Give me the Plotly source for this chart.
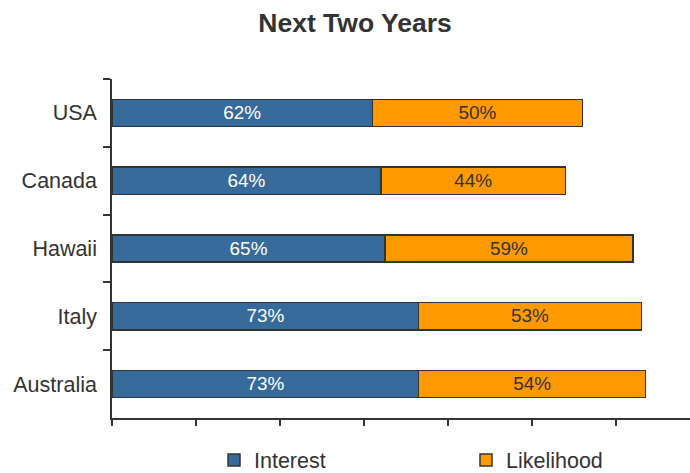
import plotly.graph_objects as go

categories = ["USA", "Canada", "Hawaii", "Italy", "Australia"]
interest = [62, 64, 65, 73, 73]
likelihood = [50, 44, 59, 53, 54]
x_ticks = [0, 20, 40, 60, 80, 100, 120]

FONT = "Liberation Sans, Arial"

fig = go.Figure()
fig.add_trace(go.Bar(
    y=categories, x=interest, name="Interest", orientation="h",
    marker=dict(color="#366A9A", line=dict(color="#333333", width=1.5)),
    texttemplate="%{x}%", textposition="inside", insidetextanchor="middle",
    textfont=dict(color="white", size=21.5, family=FONT),
    legend="legend", showlegend=True,
))
fig.add_trace(go.Bar(
    y=categories, x=likelihood, name="Likelihood", orientation="h",
    marker=dict(color="#FF9900", line=dict(color="#333333", width=1.5)),
    texttemplate="%{x}%", textposition="inside", insidetextanchor="middle",
    textfont=dict(color="#333333", size=21.5, family=FONT),
    legend="legend2", showlegend=True,
))

legend_common = dict(orientation="h", xanchor="left", xref="container",
                     yref="container", y=1 - 460 / 473, yanchor="middle",
                     visible=True, font=dict(size=21.5, color="#333333"))

fig.update_layout(
    width=690, height=473,
    margin=dict(l=112, r=0, t=79, b=55),
    barmode="stack", bargap=0.6, showlegend=True,
    plot_bgcolor="white", paper_bgcolor="white",
    font=dict(family=FONT, color="#333333", size=21.5),
    title=dict(text="<b>Next Two Years</b>", x=355 / 690, xanchor="center",
               y=1 - 23 / 473, yanchor="middle", font=dict(size=26.5, color="#333333")),
    legend=dict(x=(228 - 14) / 690, **legend_common),
    legend2=dict(x=(480 - 14) / 690, **legend_common),
    uniformtext=dict(mode="show", minsize=10),
)
fig.update_xaxes(range=[0, 137.6], tickvals=x_ticks, showticklabels=False,
                 ticks="outside", ticklen=6, tickcolor="#333333", tickwidth=1.5,
                 showline=True, linecolor="#333333", linewidth=1.5,
                 showgrid=False, zeroline=False, fixedrange=True)
fig.update_yaxes(autorange="reversed", type="category", tickson="boundaries",
                 ticks="outside", ticklen=7, tickcolor="#333333", tickwidth=1.5,
                 showline=True, linecolor="#333333", linewidth=1.5,
                 showgrid=False, zeroline=False, ticklabelstandoff=9)

fig.write_html("out.html")
